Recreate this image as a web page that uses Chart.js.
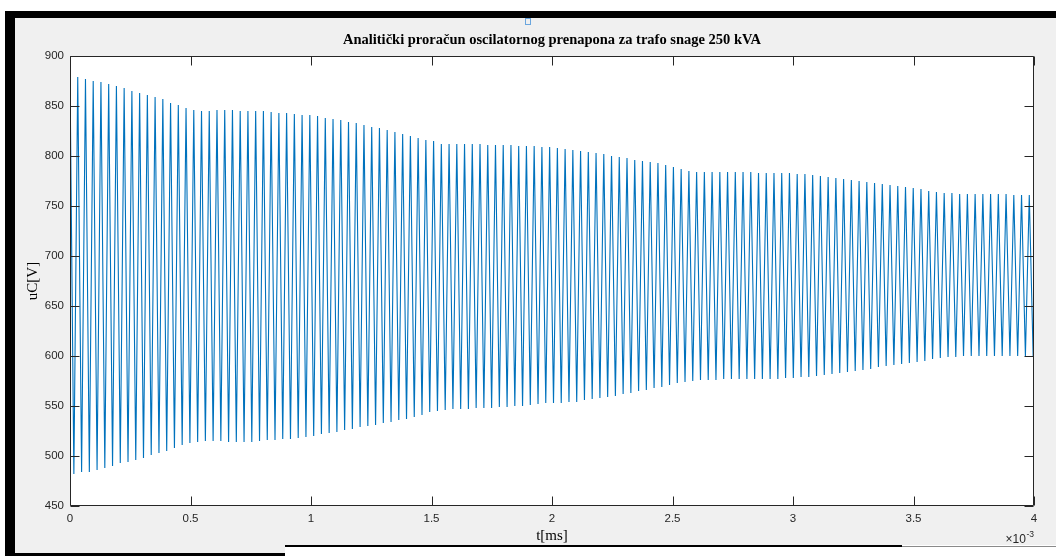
<!DOCTYPE html>
<html>
<head>
<meta charset="utf-8">
<script src="https://cdn.jsdelivr.net/npm/chart.js@4.4.1/dist/chart.umd.min.js"></script>
<style>html,body{margin:0;padding:0;background:#fff;overflow:hidden}canvas{display:block}</style>
</head>
<body>
<canvas id="c" width="1056" height="556"></canvas>
<script>
// ---- data ----
const peakSpacing = 0.0321; // distance on the t axis (x10^-3) between successive maxima
const upperPeaks = [881,879,877,875,874,872,870,868,865,863,861,859,857,853,851,848,846,845,845,846,
  846,846,845,845,845,845,844,843,843,842,841,841,840,838,837,836,834,833,831,829,
  828,826,824,822,820,818,816,815,812,812,812,812,812,812,811,811,811,811,810,810,
  810,809,809,808,807,806,805,804,803,802,800,799,798,796,795,794,793,791,789,787,
  785,784,784,784,784,784,784,784,784,783,783,783,783,783,782,782,781,780,779,778,
  777,776,775,774,773,772,771,770,769,768,767,765,764,763,763,762,762,762,762,762,
  762,762,761,761,761];
const lowerPeaks = [482,484,484,486,488,490,493,494,496,498,501,503,505,508,511,513,514,515,515,515,
  514,514,514,514,515,516,516,517,517,518,519,520,522,523,524,526,527,529,530,531,
  533,534,536,537,539,541,544,545,546,547,547,547,548,548,548,549,549,550,550,551,
  552,553,553,553,554,554,556,557,558,559,560,562,563,565,566,568,569,571,573,574,
  575,576,576,576,577,577,577,577,577,577,577,577,578,578,579,579,580,581,582,583,
  584,585,586,587,589,590,591,592,593,594,595,597,598,599,599,600,600,600,600,600,
  600,600,600,600,600];
const xTicks = [0,0.5,1,1.5,2,2.5,3,3.5,4];
const xTickLabels = ['0','0.5','1','1.5','2','2.5','3','3.5','4'];
const yTicks = [450,500,550,600,650,700,750,800,850,900];
const titleText = 'Analitički proračun oscilatornog prenapona za trafo snage 250 kVA';
const xTitle = 't[ms]';
const yTitle = 'uC[V]';
const xExponent = ['\u00d710', '-3'];

// ---- build points: maximum then minimum, half a spacing apart ----
const points = [];
for (let k = 0; k < upperPeaks.length; k++) {
  points.push({x: k * peakSpacing, y: upperPeaks[k]});
  points.push({x: (k + 0.5) * peakSpacing, y: lowerPeaks[k]});
}

const axisColor = '#262626';
const frame = {
  id: 'frame',
  beforeDraw(chart) {
    const ctx = chart.ctx, a = chart.chartArea;
    ctx.save();
    ctx.fillStyle = '#ffffff'; ctx.fillRect(0, 0, 1056, 556);
    ctx.fillStyle = '#f0f0f0';
    ctx.fillRect(15, 18, 270, 535);
    ctx.fillRect(285, 18, 771, 527);
    ctx.fillStyle = '#000';
    ctx.fillRect(5, 11, 1051, 7);
    ctx.fillRect(5, 11, 10, 545);
    ctx.fillRect(15, 553, 270, 3);
    ctx.fillRect(285, 545, 617, 2);
    ctx.fillStyle = '#8a8a8a'; ctx.fillRect(902, 546, 154, 1);
    ctx.fillStyle = '#ffffff';
    ctx.fillRect(a.left, a.top, a.right - a.left, a.bottom - a.top);
    ctx.strokeStyle = '#6aa6de'; ctx.lineWidth = 1;
    ctx.strokeRect(525.5, 18.5, 5, 6);
    ctx.restore();
  },
  afterDatasetsDraw(chart) {
    const ctx = chart.ctx, a = chart.chartArea;
    const xs = chart.scales.x, ys = chart.scales.y;
    const L = Math.round(a.left) + 0.5, R = Math.round(a.right) - 0.5;
    const T = Math.round(a.top) + 0.5, B = Math.round(a.bottom) - 0.5;
    ctx.save();
    ctx.strokeStyle = axisColor; ctx.lineWidth = 1;
    ctx.beginPath();
    ctx.rect(L, T, R - L, B - T);
    const tl = 9;
    xTicks.forEach(v => {
      const p = Math.round(xs.getPixelForValue(v)) + 0.5;
      ctx.moveTo(p, B); ctx.lineTo(p, B - tl);
      ctx.moveTo(p, T); ctx.lineTo(p, T + tl);
    });
    yTicks.forEach(v => {
      const p = Math.round(ys.getPixelForValue(v)) + 0.5;
      ctx.moveTo(L, p); ctx.lineTo(L + tl, p);
      ctx.moveTo(R, p); ctx.lineTo(R - tl, p);
    });
    ctx.stroke();
    ctx.restore();
  },
  afterDraw(chart) {
    const ctx = chart.ctx, a = chart.chartArea;
    ctx.save();
    // title, centred over the plot area
    ctx.fillStyle = '#000';
    ctx.textAlign = 'center';
    ctx.textBaseline = 'middle';
    ctx.font = 'bold 14.5px "Liberation Serif", "Times New Roman", serif';
    ctx.fillText(titleText, (a.left + a.right) / 2, 40);
    // exponent
    ctx.fillStyle = axisColor;
    ctx.textAlign = 'right';
    ctx.textBaseline = 'alphabetic';
    ctx.font = '8.5px "Liberation Sans", Arial, sans-serif';
    const w = ctx.measureText(xExponent[1]).width;
    ctx.fillText(xExponent[1], a.right, 537);
    ctx.font = '12px "Liberation Sans", Arial, sans-serif';
    ctx.fillText(xExponent[0], a.right - w - 0.5, 543);
    ctx.restore();
  }
};

new Chart(document.getElementById('c'), {
  type: 'line',
  data: {
    datasets: [{
      data: points,
      borderColor: '#0072BD',
      borderWidth: 1.1,
      pointRadius: 0,
      tension: 0,
      fill: false
    }]
  },
  options: {
    responsive: false,
    animation: false,
    devicePixelRatio: 1,
    layout: {padding: {left: 0, right: 22, top: 56, bottom: 0}},
    plugins: {
      legend: {display: false},
      tooltip: {enabled: false},
      title: {display: false}
    },
    scales: {
      x: {
        type: 'linear',
        min: 0, max: 4,
        afterBuildTicks: s => { s.ticks = xTicks.map(v => ({value: v})); },
        afterFit: s => { s.height = 50; },
        grid: {display: false, drawTicks: false},
        border: {display: false},
        ticks: {color: axisColor, padding: 6, maxRotation: 0, autoSkip: false,
          callback: (v, i) => xTickLabels[i],
          font: {family: '"Liberation Sans", Arial, sans-serif', size: 11.5}},
        title: {display: true, text: xTitle, color: '#000',
          font: {family: '"Liberation Serif", "Times New Roman", serif', size: 15},
          padding: {top: 10.5, bottom: 10.5}}
      },
      y: {
        type: 'linear',
        min: 450, max: 900,
        afterBuildTicks: s => { s.ticks = yTicks.map(v => ({value: v})); },
        afterFit: s => { s.width = 70; },
        grid: {display: false, drawTicks: false},
        border: {display: false},
        ticks: {color: axisColor, padding: 6, autoSkip: false,
          font: {family: '"Liberation Sans", Arial, sans-serif', size: 11.5}},
        title: {display: true, text: yTitle, color: '#000',
          font: {family: '"Liberation Serif", "Times New Roman", serif', size: 15},
          padding: {top: 24, bottom: 24}}
      }
    }
  },
  plugins: [frame]
});
</script>
</body>
</html>
